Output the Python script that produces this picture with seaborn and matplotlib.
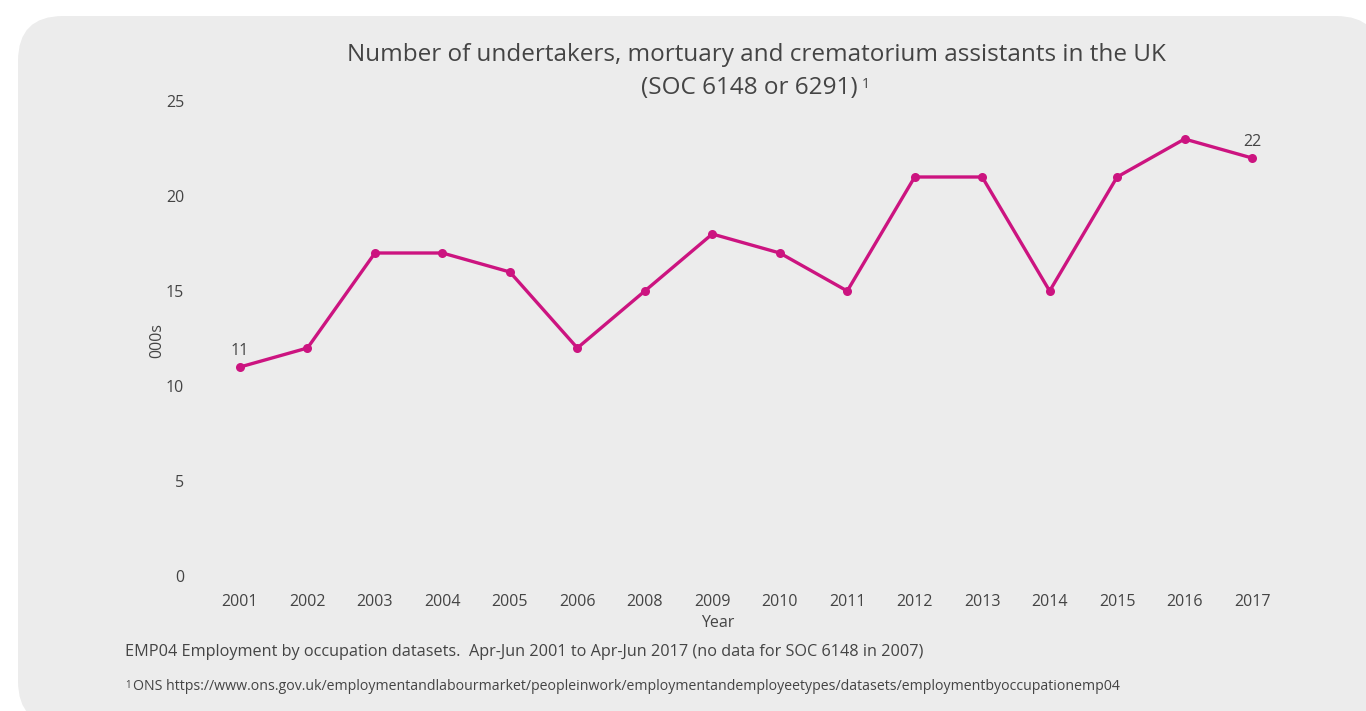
import matplotlib
matplotlib.use("Agg")
import matplotlib.pyplot as plt
from matplotlib.patches import FancyBboxPatch
from matplotlib.transforms import IdentityTransform
import pandas as pd
import seaborn as sns

# Employment series (thousands), Apr-Jun each year; no SOC 6148 data for 2007
years = ["2001", "2002", "2003", "2004", "2005", "2006", "2008", "2009",
         "2010", "2011", "2012", "2013", "2014", "2015", "2016", "2017"]
workers_000s = [11, 12, 17, 17, 16, 12, 15, 18, 17, 15, 21, 21, 15, 21, 23, 22]
y_ticks = [0, 5, 10, 15, 20, 25]

title_1 = "Number of undertakers, mortuary and crematorium assistants in the UK"
title_2 = "(SOC 6148 or 6291)"
note = "EMP04 Employment by occupation datasets.  Apr-Jun 2001 to Apr-Jun 2017 (no data for SOC 6148 in 2007)"
source = ("ONS https://www.ons.gov.uk/employmentandlabourmarket/peopleinwork/"
          "employmentandemployeetypes/datasets/employmentbyoccupationemp04")

LINE = "#CC1480"
PANEL = "#ECECEC"
TEXT = "#444444"

sns.set_theme(style="white")
plt.rcParams["font.family"] = ["Open Sans", "DejaVu Sans"]

W, H = 1366, 711
fig = plt.figure(figsize=(W / 100, H / 100), dpi=100)
fig.patch.set_facecolor("white")

# rounded grey card behind the chart (pixel coordinates, origin bottom-left)
R = 45
card_l, card_r, card_b, card_t = 18, 1381, -15, 695
card = FancyBboxPatch((card_l + R, card_b + R),
                      card_r - card_l - 2 * R, card_t - card_b - 2 * R,
                      boxstyle=f"round,pad={R},rounding_size={R}",
                      transform=IdentityTransform(), facecolor=PANEL,
                      edgecolor="none", zorder=0)
fig.add_artist(card)

step = 67.47
left = (240 - step / 2) / W
width = step * 16 / W
bottom = (H - 576) / H
height = (576 - 101) / H
ax = fig.add_axes([left, bottom, width, height])
ax.set_facecolor("none")

df = pd.DataFrame({"Year": years, "000s": workers_000s})
sns.lineplot(data=df, x="Year", y="000s", ax=ax, color=LINE, linewidth=2.4,
             marker="o", markersize=6.5, markeredgewidth=0, sort=False)

ax.set_xlim(-0.5, len(years) - 0.5)
ax.set_ylim(0, 25)
ax.set_yticks(y_ticks)
for s in ax.spines.values():
    s.set_visible(False)
ax.tick_params(axis="both", length=0, labelsize=11.5, labelcolor=TEXT)
ax.tick_params(axis="y", pad=16)
ax.tick_params(axis="x", pad=13)
ax.set_xlabel("")
ax.set_ylabel("000s", fontsize=11.5, color=TEXT, labelpad=0)
ax.yaxis.set_label_coords((165 - 240 + step / 2) / (step * 16), (711 - 340 - 135) / 475)
fig.text(718 / W, 1 - 623 / H, "Year", ha="center", va="center",
         fontsize=11.5, color=TEXT)

# value labels on first and last points
for i in (0, len(years) - 1):
    ax.annotate(str(workers_000s[i]), (i, workers_000s[i]), xytext=(0, 6),
                textcoords="offset points", ha="center", va="bottom",
                fontsize=11.5, color=TEXT)

fig.text(756 / W, 1 - 55 / H, title_1, ha="center", va="center",
         fontsize=17.5, color=TEXT)
fig.text(858 / W, 1 - 88 / H, title_2, ha="right", va="center",
         fontsize=17.5, color=TEXT)
fig.text(862 / W, 1 - 84 / H, "1", ha="left", va="center",
         fontsize=10, color=TEXT)

fig.text(125 / W, 1 - 652 / H, note, ha="left", va="center", fontsize=11.7,
         color=TEXT)
fig.text(125 / W, 1 - 685 / H, "1", ha="left", va="center", fontsize=7,
         color=TEXT)
fig.text(133 / W, 1 - 686 / H, source, ha="left", va="center", fontsize=10.2,
         color=TEXT)

fig.savefig("out.png", dpi=100)
